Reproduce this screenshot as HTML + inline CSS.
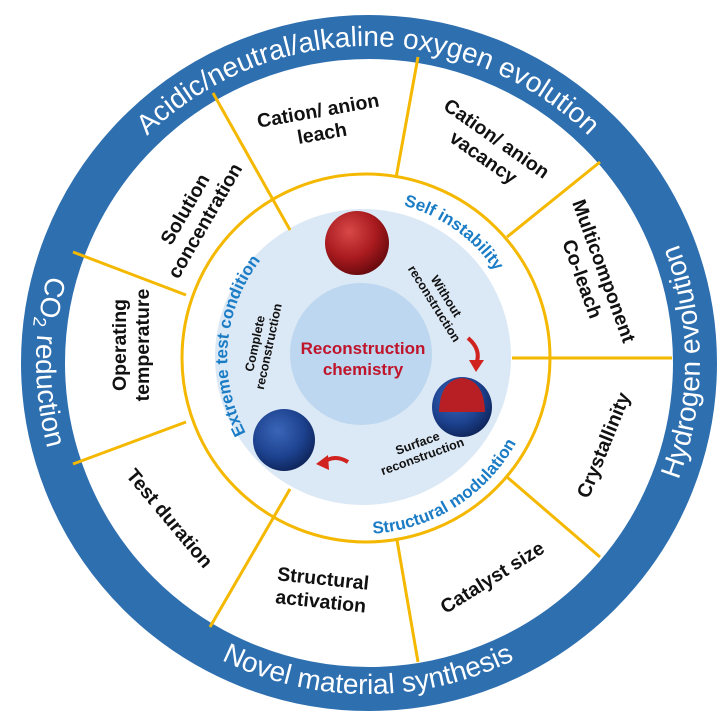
<!DOCTYPE html>
<html><head><meta charset="utf-8"><style>
html,body{margin:0;padding:0;background:#fff;}
svg{display:block;}
text{font-family:"Liberation Sans",sans-serif;}
.lb{font-weight:bold;font-size:19.5px;fill:#111;text-anchor:middle;}
.sm{font-weight:bold;font-size:12.5px;fill:#111;text-anchor:middle;}
.bl{font-weight:bold;font-size:17px;fill:#1b7cc6;}
.ot{font-size:28px;fill:#fff;}
</style></head><body>
<svg width="727" height="724" viewBox="0 0 727 724" xmlns="http://www.w3.org/2000/svg">
<defs>
<radialGradient id="red" cx="0.38" cy="0.32" r="0.7">
<stop offset="0" stop-color="#d84848"/><stop offset="0.6" stop-color="#a81a1e"/><stop offset="1" stop-color="#6a0a0e"/></radialGradient>
<radialGradient id="blu" cx="0.4" cy="0.35" r="0.7">
<stop offset="0" stop-color="#3a66b8"/><stop offset="0.6" stop-color="#1d428f"/><stop offset="1" stop-color="#0d2256"/></radialGradient>
<path id="pTop" d="M52,362 A316,316 0 0 1 684,362"/>
<path id="pBot" d="M36,362 A332,332 0 0 0 700,362"/>
<path id="pLeft" d="M368,30 A332,332 0 0 0 368,694"/>
<path id="pRight" d="M368,694 A332,332 0 0 0 368,30"/>
<path id="iCw" d="M362,200 A160,160 0 0 1 522,358"/>
<path id="iLeft" d="M362,516 A160,160 0 0 1 362,200"/>
<path id="iBot" d="M186,358 A176,176 0 0 0 538,358"/>
</defs>
<circle cx="369" cy="363" r="326" fill="none" stroke="#2e6fb0" stroke-width="44"/>
<circle cx="366" cy="358" r="184" fill="none" stroke="#f5b800" stroke-width="3"/>
<circle cx="363" cy="357" r="148" fill="#dbe8f5"/>
<circle cx="361" cy="354" r="71" fill="#bcd7ef"/>
<g stroke="#f5b800" stroke-width="3" fill="none">
<line x1="290" y1="230" x2="213" y2="93"/>
<line x1="396" y1="178" x2="418" y2="57"/>
<line x1="507" y1="237" x2="600" y2="162"/>
<line x1="512" y1="358" x2="672" y2="358"/>
<line x1="507" y1="477" x2="600" y2="557"/>
<line x1="397" y1="540" x2="418" y2="662"/>
<line x1="290" y1="489" x2="210" y2="627"/>
<line x1="186" y1="422" x2="73" y2="464"/>
<line x1="186" y1="295" x2="73" y2="252"/>
</g>
<text class="ot"><textPath href="#pTop" startOffset="50%" text-anchor="middle">Acidic/neutral/alkaline oxygen evolution</textPath></text>
<text class="ot"><textPath href="#pBot" startOffset="50%" text-anchor="middle">Novel material synthesis</textPath></text>
<text class="ot"><textPath href="#pLeft" startOffset="50%" text-anchor="middle">CO<tspan font-size="18" dy="5">2</tspan><tspan dy="-5"> reduction</tspan></textPath></text>
<text class="ot"><textPath href="#pRight" startOffset="50%" text-anchor="middle">Hydrogen evolution</textPath></text>
<text class="bl"><textPath href="#iCw" startOffset="40%" text-anchor="middle">Self instability</textPath></text>
<text class="bl"><textPath href="#iLeft" startOffset="53%" text-anchor="middle">Extreme test condition</textPath></text>
<text class="bl"><textPath href="#iBot" startOffset="68%" text-anchor="middle">Structural modulation</textPath></text>
<g transform="translate(320,122) rotate(-10)"><text class="lb" y="-5">Cation/ anion</text><text class="lb" y="18">leach</text></g>
<g transform="translate(490,148) rotate(35)"><text class="lb" y="-5">Cation/ anion</text><text class="lb" y="18">vacancy</text></g>
<g transform="translate(195,215) rotate(-60)"><text class="lb" y="-5">Solution</text><text class="lb" y="18">concentration</text></g>
<g transform="translate(593,275) rotate(70)"><text class="lb" y="-5">Multicomponent</text><text class="lb" y="18">Co-leach</text></g>
<g transform="translate(131,345) rotate(-90)"><text class="lb" y="-5">Operating</text><text class="lb" y="18">temperature</text></g>
<g transform="translate(603,445) rotate(-68)"><text class="lb" y="7">Crystallinity</text></g>
<g transform="translate(492,577) rotate(-32)"><text class="lb" y="7">Catalyst size</text></g>
<g transform="translate(322,590) rotate(6)"><text class="lb" y="-5">Structural</text><text class="lb" y="18">activation</text></g>
<g transform="translate(170,518) rotate(50)"><text class="lb" y="7">Test duration</text></g>
<text x="363" y="354" font-weight="bold" font-size="17" fill="#c0142b" text-anchor="middle">Reconstruction</text>
<text x="363" y="375" font-weight="bold" font-size="17" fill="#c0142b" text-anchor="middle">chemistry</text>
<g transform="translate(440,300) rotate(58)"><text class="sm" y="-3">Without</text><text class="sm" y="11">reconstruction</text></g>
<g transform="translate(262,345) rotate(-78)"><text class="sm" y="-3">Complete</text><text class="sm" y="11">reconstruction</text></g>
<g transform="translate(420,450) rotate(-20)"><text class="sm" y="-3">Surface</text><text class="sm" y="11">reconstruction</text></g>
<circle cx="357" cy="243" r="32" fill="url(#red)"/>
<circle cx="462" cy="407" r="30" fill="url(#blu)"/>
<path d="M439,412 Q440,380 462,378 Q484,380 485,412 Z" fill="#b81f24"/>
<circle cx="284" cy="440" r="31" fill="url(#blu)"/>
<path d="M468,338 Q482,350 476,364" fill="none" stroke="#d0221f" stroke-width="4"/>
<path d="M469,360 L476,372 L484,360 Z" fill="#d0221f"/>
<path d="M348,462 Q335,454 324,462" fill="none" stroke="#d0221f" stroke-width="4"/>
<path d="M328,455 L316,464 L329,470 Z" fill="#d0221f"/>
</svg>
</body></html>
